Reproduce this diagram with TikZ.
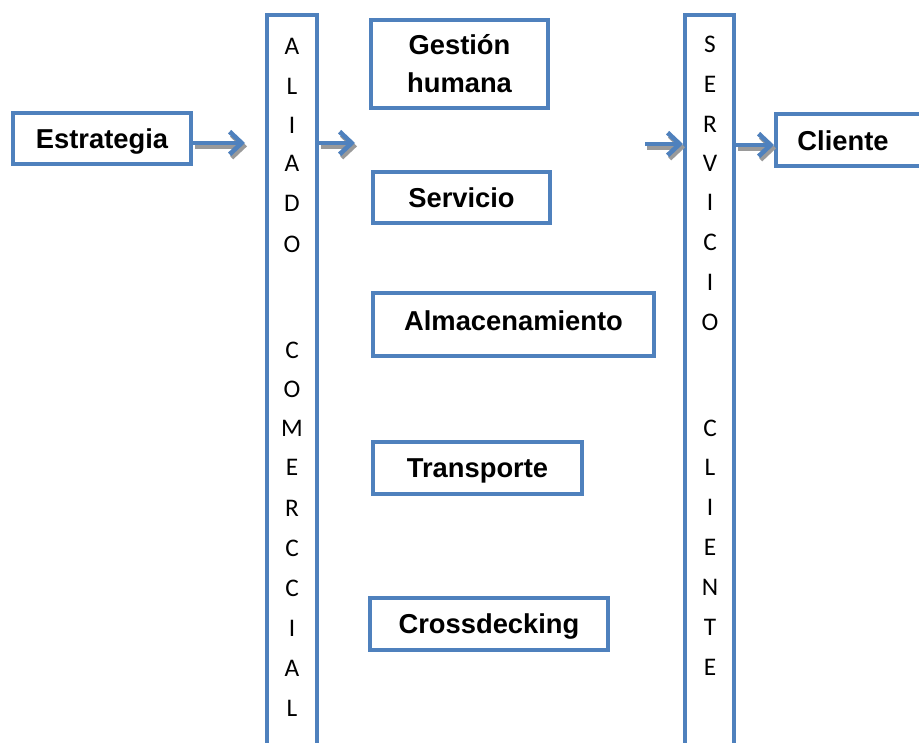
\documentclass[tikz,border=0pt]{standalone}
\usepackage{fontspec}
\setmainfont{Liberation Sans}
\newfontfamily\letterfont{Carlito}
\usetikzlibrary{arrows.meta}
\definecolor{ofblue}{HTML}{4F81BD}
\definecolor{shgray}{HTML}{9A9A9A}
\begin{document}
\begin{tikzpicture}[x=0.75pt,y=-0.75pt,
  box/.style={draw=ofblue,line width=3pt,inner sep=0pt,fill=white,
    font=\bfseries\fontsize{20.5}{28.5}\selectfont,align=center},
  onel/.style={text depth=0pt},
  bar/.style={draw=ofblue,line width=3pt,inner sep=0pt,minimum width=#1,minimum height=566.25pt},
  letter/.style={inner sep=0pt,font=\letterfont\fontsize{19}{21}\selectfont},
  lbl/.style={inner sep=0pt,text depth=0pt,font=\bfseries\fontsize{20.5}{27}\selectfont},
  arr/.style={draw=ofblue,line width=3.5pt,-{Straight Barb[length=9pt,width=17pt,line width=3.5pt]}},
  arrsh/.style={arr,draw=shgray,transform canvas={shift={(1.5pt,-2.5pt)}}}]
\useasboundingbox (0,0) rectangle (919,742);
\clip (0,0) rectangle (919,742);
\fill[white] (0,0) rectangle (919,742);

% boxes
\node[box,onel,minimum width=133.5pt,minimum height=38.25pt] (estrategia) at (102,138.5) {Estrategia};
\node[box,minimum width=132.75pt,minimum height=66pt] (gestion) at (459.5,64) {Gestión\\humana};
\node[box,onel,minimum width=132.75pt,minimum height=38.25pt] (servicio) at (461.5,197.5) {Servicio};
\node[box,onel,minimum width=210.75pt,minimum height=47.25pt] (almac) at (513.5,324.5) {};
\node[lbl] (almactxt) at (513.5,320.5) {Almacenamiento};
\node[box,onel,minimum width=156.75pt,minimum height=39pt] (transporte) at (477.5,468) {Transporte};
\node[box,onel,minimum width=178.5pt,minimum height=39pt] (cross) at (489,624) {Crossdecking};
\node[box,minimum width=126.75pt,minimum height=39pt] (clbox) at (860.5,140) {};
\node[lbl] (cliente) at (843,141) {Cliente};

% vertical bars
\node[bar=37.5pt] (aliado) at (292,392.5) {};
\node[bar=36.75pt] (servcli) at (709.5,392.5) {};

\foreach \l/\y [count=\i] in {A/46,L/86,I/125,A/163,D/203,O/244,C/350,O/389,M/428,E/467,R/508,C/548,C/588,I/628,A/668,L/708}
  \node[letter] (al\i) at (292,\y) {\l};
\foreach \l/\y [count=\i] in {S/44,E/84,R/124,V/163,I/202,C/242,I/282,O/322,C/428,L/467,I/507,E/547,N/587,T/627,E/667}
  \node[letter] (sc\i) at (710,\y) {\l};

% arrow end coordinates
\coordinate (a1e) at (245,143);
\coordinate (a2e) at (355,143);
\coordinate (a3s) at (645,144);
\coordinate (a4e) at (774,145);

\draw[arrsh] (estrategia.east |- a1e) -- (a1e);
\draw[arr] (estrategia.east |- a1e) -- (a1e);
\draw[arrsh] (aliado.east |- a2e) -- (a2e);
\draw[arr] (aliado.east |- a2e) -- (a2e);
\draw[arrsh] (a3s) -- (servcli.west |- a3s);
\draw[arr] (a3s) -- (servcli.west |- a3s);
\draw[arrsh] (servcli.east |- a4e) -- (clbox.west |- a4e);
\draw[arr] (servcli.east |- a4e) -- (clbox.west |- a4e);
\end{tikzpicture}
\end{document}
